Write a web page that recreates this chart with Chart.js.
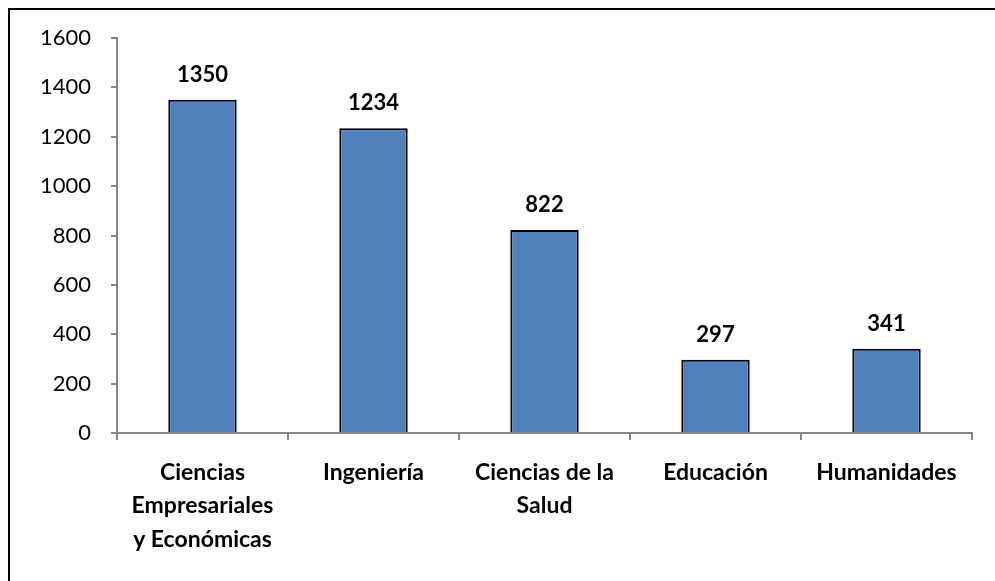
<!DOCTYPE html>
<html>
<head>
<meta charset="utf-8">
<script src="https://cdn.jsdelivr.net/npm/chart.js@4.4.1/dist/chart.umd.min.js"></script>
<style>
    html, body { margin: 0; padding: 0; background: #fff; overflow: hidden; }
    #wrap { position: relative; width: 995px; height: 581px; }
    #frame {
        position: absolute; left: 8px; top: 8px; width: 1000px; height: 600px;
        border-top: 2px solid #000; border-left: 2px solid #000;
    }
    canvas { position: absolute; left: 0; top: 0; }
</style>
</head>
<body>
<div id="wrap">
    <div id="frame"></div>
    <canvas id="chart" width="995" height="581"></canvas>
</div>
<script>
// categorias y valores
const facultades = [
    ["Ciencias", "Empresariales", "y Económicas"],
    "Ingeniería",
    ["Ciencias de la", "Salud"],
    "Educación",
    "Humanidades",
];
const estudiantes = [1350, 1234, 822, 297, 341];
const yMax = 1600;
const yStep = 200;

const fontFamily = "Lato, 'Open Sans', sans-serif";
const axisGrey = "#868686";

// etiquetas encima de cada barra
const valueLabels = {
    id: "valueLabels",
    afterDatasetsDraw(chart) {
        const ctx = chart.ctx;
        const meta = chart.getDatasetMeta(0);
        ctx.save();
        ctx.font = "bold 22px " + fontFamily;
        ctx.fillStyle = "#000";
        ctx.textAlign = "center";
        ctx.textBaseline = "middle";
        meta.data.forEach((bar, i) => {
            ctx.fillText(estudiantes[i], bar.x, bar.y - 25);
        });
        ctx.restore();
    },
};

new Chart(document.getElementById("chart"), {
    type: "bar",
    data: {
        labels: facultades,
        datasets: [
            {
                data: estudiantes,
                backgroundColor: "#4F81BD",
                borderColor: "#000",
                borderWidth: 2,
                barPercentage: 0.4,
                categoryPercentage: 1,
            },
        ],
    },
    options: {
        responsive: false,
        animation: false,
        layout: { padding: { top: 38, right: 23, left: 0, bottom: 0 } },
        plugins: {
            legend: { display: false },
            tooltip: { enabled: false },
        },
        scales: {
            x: {
                grid: {
                    offset: true,
                    drawOnChartArea: false,
                    drawTicks: true,
                    tickLength: 7,
                    color: axisGrey,
                    lineWidth: 2,
                },
                border: { color: axisGrey, width: 2 },
                ticks: {
                    color: "#000",
                    maxRotation: 0,
                    autoSkip: false,
                    padding: 16,
                    font: { family: fontFamily, size: 23, weight: "bold", lineHeight: 1.45 },
                },
                afterFit(scale) {
                    scale.height = 581 - 433;
                },
            },
            y: {
                min: 0,
                max: yMax,
                grid: {
                    drawOnChartArea: false,
                    drawTicks: true,
                    tickLength: 6,
                    color: axisGrey,
                    lineWidth: 2,
                },
                border: { color: axisGrey, width: 2 },
                ticks: {
                    stepSize: yStep,
                    color: "#000",
                    padding: 20,
                    font: { family: fontFamily, size: 22 },
                    callback: (v) => String(v),
                },
                afterFit(scale) {
                    scale.width = 117;
                },
            },
        },
    },
    plugins: [valueLabels],
});
</script>
</body>
</html>
